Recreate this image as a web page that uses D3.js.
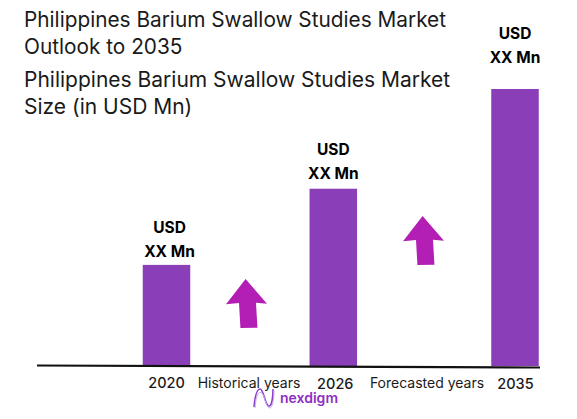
<!DOCTYPE html>
<html>
<head>
<meta charset="utf-8">
<script src="https://cdn.jsdelivr.net/npm/d3@7/dist/d3.min.js"></script>
<style>
  html, body { margin: 0; padding: 0; background: #fff; }
  text { font-family: Inter, sans-serif; fill: #1a1a1a; }
  .title { font-size: 21px; }
  .value { font-size: 15.5px; font-weight: 700; fill: #000; }
  .tick-label { font-size: 14.5px; font-weight: 500; }
  .period { font-size: 14px; }
</style>
</head>
<body>
<div class="chart"></div>
<script>
const width = 577, height = 419;

// the market values are masked as "XX" in the source, so bars are estimates on a 0-100 scale
const years = ["2020", "2026", "2035"];
const sizes = [36.5, 64, 100];
const valueLines = ["USD", "XX Mn"];
const periods = ["Historical years", "Forecasted years"];
const titleLines = [
    "Philippines Barium Swallow Studies Market",
    "Outlook to 2035",
    "Philippines Barium Swallow Studies Market",
    "Size (in USD Mn)"
];

const svg = d3.select('.chart')
    .append('svg')
    .attr('width', width)
    .attr('height', height)
    .style('display', 'block');

// years are not evenly spaced in the picture
const xScale = d3.scaleOrdinal()
    .domain(years)
    .range([166.5, 333.3, 515]);

const yScale = d3.scaleLinear()
    .domain([0, 100])
    .range([366, 89]);

const barWidth = 47.5;

// the upper title is set a little smaller than the lower one
svg.selectAll('.title')
    .data(titleLines)
    .enter()
    .append('text')
    .attr('class', 'title')
    .attr('x', 24)
    .attr('y', (d, i) => [27, 54, 87, 114][i])
    .style('font-size', (d, i) => i < 2 ? '20.8px' : '21px')
    .text(d => d);

svg.selectAll('.bar')
    .data(years)
    .enter()
    .append('rect')
    .attr('class', 'bar')
    .attr('x', d => xScale(d) - barWidth / 2)
    .attr('y', (d, i) => yScale(sizes[i]))
    .attr('width', barWidth)
    .attr('height', (d, i) => yScale(0) - yScale(sizes[i]))
    .attr('fill', '#8a3fb8');

// baseline, tilts slightly down to the right
svg.append('line')
    .attr('x1', 37).attr('y1', 365.5)
    .attr('x2', 540).attr('y2', 367.5)
    .attr('stroke', '#111')
    .attr('stroke-width', 2.2);

// first line baseline of each value label, the gap above the bar differs per bar
const labelBase = [233, 155, 39];
const labelDx = [3, 0, 0];
years.forEach((y, i) => {
    valueLines.forEach((t, j) => {
        svg.append('text')
            .attr('class', 'value')
            .attr('text-anchor', 'middle')
            .attr('x', xScale(y) + labelDx[i])
            .attr('y', labelBase[i] + j * 23.5)
            .text(t);
    });
});

svg.selectAll('.tick-label')
    .data(years)
    .enter()
    .append('text')
    .attr('class', 'tick-label')
    .attr('text-anchor', 'middle')
    .attr('x', (d, i) => xScale(d) + [0, 2, 0.5][i])
    .attr('y', (d, i) => [388, 389, 389][i])
    .text(d => d);

svg.selectAll('.period')
    .data(periods)
    .enter()
    .append('text')
    .attr('class', 'period')
    .attr('text-anchor', 'middle')
    .attr('x', (d, i) => [249, 427][i])
    .attr('y', 388)
    .text(d => d);

// up arrows between the bars
const arrow = "M0,-24 L21,1 L10,0 L11,25 L-6,25 L-7,0 L-20,1 Z";
svg.selectAll('.arrow')
    .data([[246, 303], [423, 240]])
    .enter()
    .append('path')
    .attr('class', 'arrow')
    .attr('d', arrow)
    .attr('fill', '#b31fb5')
    .attr('transform', d => "translate(" + d[0] + "," + d[1] + ") rotate(-1)");

// logo
const logo = svg.append('g').attr('transform', 'translate(253,388)');
logo.append('path')
    .attr('d', 'M1,19 C2,8 4,1 7,1 C11,1 12,18 16,18 C19,18 20,8 20,1')
    .attr('fill', 'none')
    .attr('stroke', '#8a3fd0')
    .attr('stroke-width', 1.6);
logo.append('path')
    .attr('d', 'M2,20 C3,6 6,3 9,5 C12,9 13,20 17,20 C19,20 21,12 21,3')
    .attr('fill', 'none')
    .attr('stroke', '#c9a5e8')
    .attr('stroke-width', 1);
svg.append('text')
    .attr('x', 280)
    .attr('y', 402.5)
    .style('font-size', '14px')
    .style('font-weight', 600)
    .style('fill', '#8e2fc4')
    .text('nexdigm');
</script>
</body>
</html>
